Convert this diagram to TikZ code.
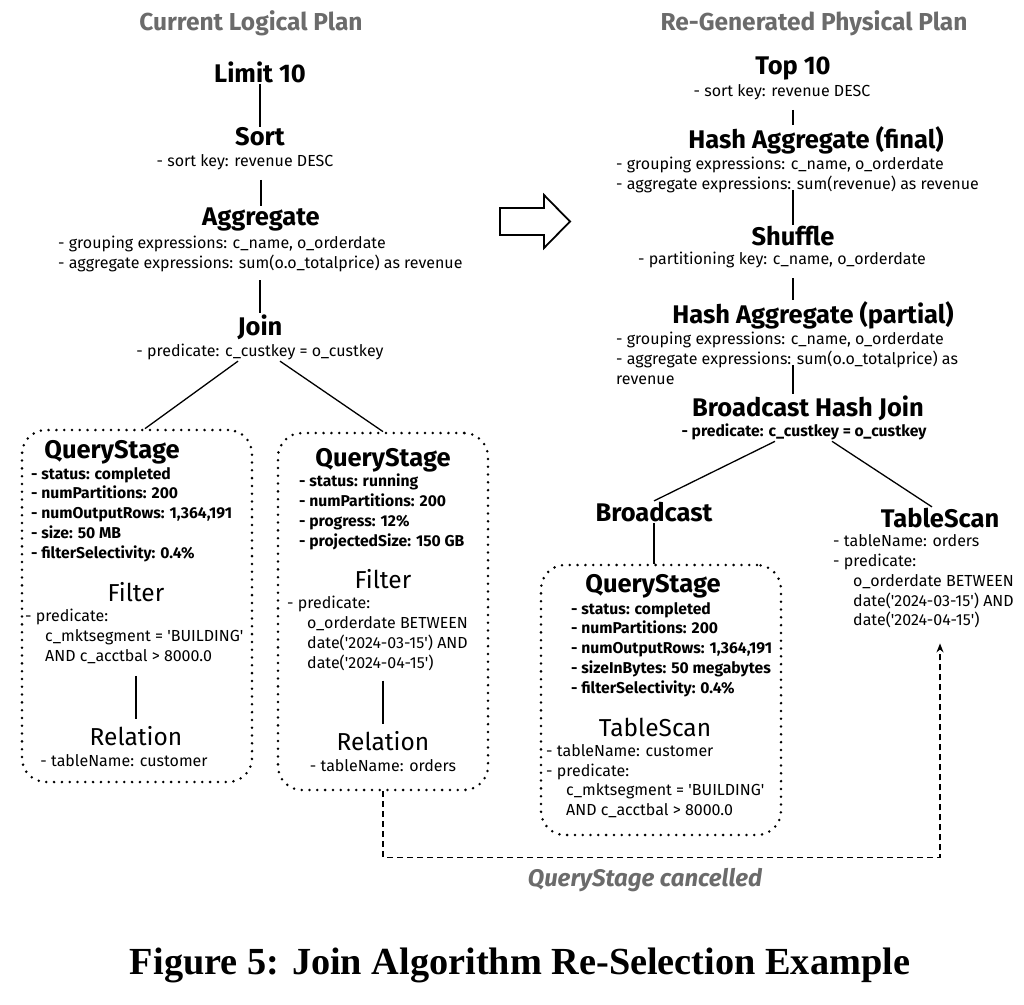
\documentclass[tikz,border=0pt]{standalone}
\usepackage{fontspec}
\setmainfont{Fira Sans}
\newfontfamily\captionfont{Liberation Serif}
\usetikzlibrary{arrows.meta}
\colorlet{planGray}{black!58}
\newcommand{\ind}{\hspace*{20pt}}
\newcommand{\q}{\textquotesingle}
\tikzset{
  % titles of the two plans
  planTitle/.style={font=\bfseries\fontsize{24.5}{28}\selectfont, text=planGray},
  opname/.style={font=\bfseries\fontsize{25.5}{30}\selectfont, inner sep=1pt},
  subop/.style={font=\fontsize{24.5}{29}\selectfont, inner sep=1pt},
  detail/.style={font=\fontsize{16}{19.8}\selectfont, align=left, inner sep=1pt},
  stat/.style={font=\bfseries\fontsize{15.7}{19.8}\selectfont, align=left, inner sep=1pt},
  edge/.style={line width=1.3pt, draw=black},
  stagebox/.style={draw, line width=2.8pt, dash pattern=on 0pt off 7.8pt,
    line cap=round, rounded corners=24pt, inner sep=0pt},
  cancelarrow/.style={line width=1.3pt, dash pattern=on 6pt off 4pt,
    -{Stealth[length=9pt,width=7pt]}},
  note/.style={font=\bfseries\itshape\fontsize{24}{28}\selectfont, text=planGray}
}

\begin{document}
\begin{tikzpicture}[x=1pt,y=-1pt]
\useasboundingbox (0,0) rectangle (1024,1004);

% ---------------- current logical plan
\node[planTitle] (ltitle) at (251,23) {Current Logical Plan};
\node[opname] (limit) at (260,72) {Limit 10};
\node[opname] (sort) at (260,137) {Sort};
\node[detail] (sortkey) at (245,162) {- sort key: revenue DESC};
\node[opname] (agg) at (261,219) {Aggregate};
\node[detail, anchor=north west] (aggexpr) at (57,235)
{- grouping expressions: c\_name, o\_orderdate\\
- aggregate expressions: sum(o.o\_totalprice) as revenue};
\node[opname] (join) at (260,327) {Join};
\node[detail] (joinpred) at (260,352) {- predicate: c\_custkey = o\_custkey};

\node[stagebox, minimum width=230, minimum height=352] (lbox) at (137,606) {};
\node[opname] (lqs) at (112,452) {QueryStage};
\node[stat, anchor=north west] (lstats) at (30,466)
{- status: completed\\
- numPartitions: 200\\
- numOutputRows: 1,364,191\\
- size: 50 MB\\
- filterSelectivity: 0.4\%};
\node[subop] (lfilter) at (136,592) {Filter};
\node[detail, anchor=north west] (lfpred) at (24,608)
{- predicate:\\
\ind c\_mktsegment = \q BUILDING\q\\
\ind AND c\_acctbal > 8000.0};
\node[subop] (lrel) at (136,736) {Relation};
\node[detail] (lrelname) at (124,761) {- tableName: customer};

\node[stagebox, minimum width=210, minimum height=357] (rbox) at (383,611.5) {};
\node[opname] (rqs) at (383,460) {QueryStage};
\node[stat, anchor=north west] (rstats) at (298,473)
{- status: running\\
- numPartitions: 200\\
- progress: 12\%\\
- projectedSize: 150 GB};
\node[subop] (rfilter) at (383,579) {Filter};
\node[detail, anchor=north west] (rfpred) at (286,595)
{- predicate:\\
\ind o\_orderdate BETWEEN\\
\ind date(\q 2024-03-15\q) AND\\
\ind date(\q 2024-04-15\q)};
\node[subop] (rrel) at (383,741) {Relation};
\node[detail] (rrelname) at (383,766) {- tableName: orders};

\draw[edge] (limit) -- (sort);
\draw[edge, shorten <=9pt] (agg.north |- sortkey.south) -- (agg.north);
\draw[edge, shorten <=7pt] (join.north |- aggexpr.south) -- (join.north);
\draw[edge] ([xshift=-22]joinpred.south) -- ([xshift=8]lbox.north);
\draw[edge] ([xshift=20]joinpred.south) -- (rbox.north);
\draw[edge, shorten <=11pt, shorten >=6pt] (lrel.north |- lfpred.south) -- (lrel.north);
\draw[edge, shorten <=9pt, shorten >=6pt] (rrel.north |- rfpred.south) -- (rrel.north);

% ---------------- hollow arrow
\draw[line width=1.8pt, line join=miter] (500,208) -- (544,208) -- (544,195)
  -- (570,221.5) -- (544,248) -- (544,235) -- (500,235) -- cycle;

% ---------------- re-generated physical plan
\node[planTitle] (rtitle) at (814,23) {Re-Generated Physical Plan};
\node[opname] (top) at (793,68) {Top 10};
\node[detail] (topkey) at (782,92) {- sort key: revenue DESC};
\node[opname] (hfinal) at (816,140) {Hash Aggregate (final)};
\node[detail, anchor=north west] (hfexpr) at (615,156)
{- grouping expressions: c\_name, o\_orderdate\\
- aggregate expressions: sum(revenue) as revenue};
\coordinate (hfout) at (793,190);
\node[opname] (shuffle) at (793,236) {Shuffle};
\node[detail] (shkey) at (782,260) {- partitioning key: c\_name, o\_orderdate};
\node[opname] (hpartial) at (813,315) {Hash Aggregate (partial)};
\node[detail, anchor=north west] (hpexpr) at (615,331)
{- grouping expressions: c\_name, o\_orderdate\\
- aggregate expressions: sum(o.o\_totalprice) as\\
revenue};
\coordinate (hpout) at (793,365);
\node[opname] (bhj) at (808,408) {Broadcast Hash Join};
\node[stat] (bhjpred) at (804,432) {- predicate: c\_custkey = o\_custkey};

\node[opname] (bcast) at (654,512) {Broadcast};
\node[opname] (tscan) at (940,518) {TableScan};
\node[detail, anchor=north west] (tsdetail) at (832,533.5)
{- tableName: orders\\
- predicate:\\
\ind o\_orderdate BETWEEN\\
\ind date(\q 2024-03-15\q) AND\\
\ind date(\q 2024-04-15\q)};

\node[stagebox, minimum width=240, minimum height=270] (bbox) at (661,700) {};
\node[opname] (bqs) at (653,586) {QueryStage};
\node[stat, anchor=north west] (bstats) at (570,601)
{- status: completed\\
- numPartitions: 200\\
- numOutputRows: 1,364,191\\
- sizeInBytes: 50 megabytes\\
- filterSelectivity: 0.4\%};
\node[subop] (bts) at (655,727) {TableScan};
\node[detail, anchor=north west] (btsdetail) at (545,743)
{- tableName: customer\\
- predicate:\\
\ind c\_mktsegment = \q BUILDING\q\\
\ind AND c\_acctbal > 8000.0};

\draw[edge, shorten <=9pt] (top.south |- topkey.south) -- (hfinal.north -| top.south);
\draw[edge] (hfout) -- (shuffle.north);
\draw[edge, shorten <=9pt] (shuffle.south |- shkey.south) -- (hpartial.north -| shuffle.south);
\draw[edge] (hpout) -- (bhj.north -| hpout);
\draw[edge] ([xshift=-29]bhjpred.south) -- (bcast.north);
\draw[edge] ([xshift=28]bhjpred.south) -- ([xshift=-8]tscan.north);
\draw[edge] (bcast) -- (bbox.north -| bcast);

% ---------------- cancelled stage
\draw[cancelarrow] (rbox.south) -- ++(0,66) -| ([yshift=-14]tscan.south |- tsdetail.south);
\node[note] (cancelled) at (645,880) {QueryStage cancelled};

\node[font=\captionfont\bfseries\fontsize{38.3}{44}\selectfont] (caption) at (520,965)
{Figure 5: Join Algorithm Re-Selection Example};
\end{tikzpicture}
\end{document}
